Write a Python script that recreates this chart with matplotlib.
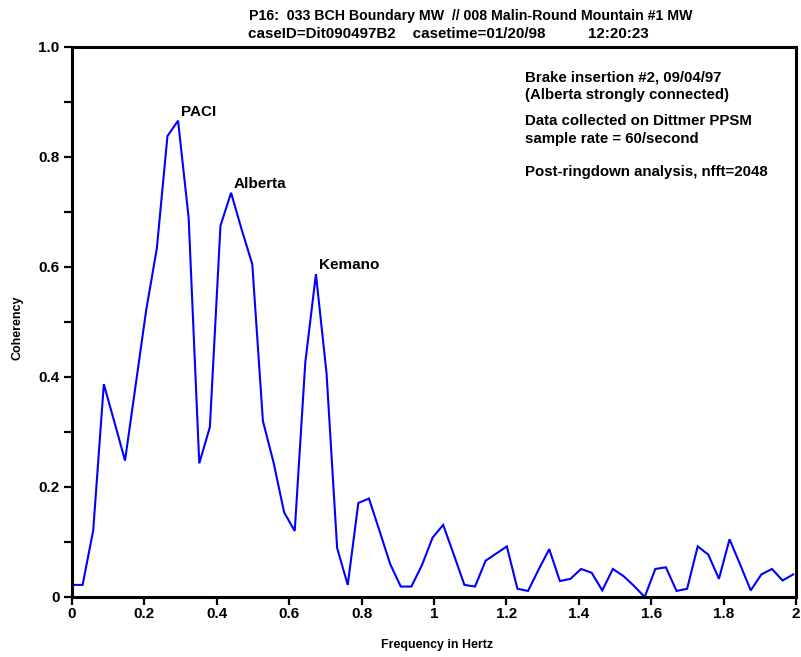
import numpy as np
import matplotlib
matplotlib.use("Agg")
import matplotlib.pyplot as plt
from matplotlib.ticker import MultipleLocator, FixedLocator

# Spectral setup: 60 samples/second, nfft = 2048
fs = 60.0
nfft = 2048
freq_step = fs / nfft

# Coherency estimates for bins 0..68
coherency = [
    0.022, 0.022, 0.121, 0.387, 0.318, 0.248, 0.385, 0.522, 0.634, 0.838,
    0.866, 0.689, 0.243, 0.309, 0.675, 0.735, 0.668, 0.605, 0.320, 0.245,
    0.154, 0.120, 0.427, 0.587, 0.407, 0.089, 0.022, 0.171, 0.179, 0.120,
    0.060, 0.019, 0.019, 0.058, 0.108, 0.131, 0.077, 0.022, 0.019, 0.066,
    0.079, 0.092, 0.015, 0.011, 0.050, 0.087, 0.029, 0.033, 0.051, 0.044,
    0.012, 0.051, 0.038, 0.020, 0.000, 0.051, 0.054, 0.011, 0.015, 0.092,
    0.077, 0.033, 0.105, 0.059, 0.012, 0.041, 0.051, 0.030, 0.041,
]
freqs = np.arange(len(coherency)) * freq_step

peak_labels = ["PACI", "Alberta", "Kemano"]
peak_bins = [10, 15, 23]

x_ticks = [0, 0.2, 0.4, 0.6, 0.8, 1.0, 1.2, 1.4, 1.6, 1.8, 2.0]
x_tick_labels = ["0", "0.2", "0.4", "0.6", "0.8", "1", "1.2", "1.4", "1.6", "1.8", "2"]
y_ticks = [0, 0.2, 0.4, 0.6, 0.8, 1.0]
y_tick_labels = ["0", "0.2", "0.4", "0.6", "0.8", "1.0"]

title_1 = "P16:  033 BCH Boundary MW  // 008 Malin-Round Mountain #1 MW"
title_2 = "caseID=Dit090497B2    casetime=01/20/98          12:20:23"
note_lines = [
    "Brake insertion #2, 09/04/97",
    "(Alberta strongly connected)",
    "Data collected on Dittmer PPSM",
    "sample rate = 60/second",
    "Post-ringdown analysis, nfft=2048",
]
note_y = [0.945, 0.913, 0.865, 0.833, 0.773]

plt.rcParams["font.family"] = ["Liberation Sans", "DejaVu Sans"]
plt.rcParams["font.weight"] = "bold"

W, H = 801, 657
fig = plt.figure(figsize=(W / 100, H / 100), dpi=100)
ax = fig.add_axes([72 / W, 1 - 597 / H, (796 - 72) / W, (597 - 47) / H])

ax.plot(freqs, coherency, color="#0000ff", lw=1.5, solid_joinstyle="miter")

ax.set_xlim(0, 2)
ax.set_ylim(0, 1)
ax.xaxis.set_major_locator(FixedLocator(x_ticks))
ax.set_xticklabels(x_tick_labels)
ax.yaxis.set_major_locator(FixedLocator(y_ticks))
ax.set_yticklabels(y_tick_labels)
ax.yaxis.set_minor_locator(MultipleLocator(0.1))

for side in ["left", "bottom", "right", "top"]:
    ax.spines[side].set_linewidth(2.2)

ax.tick_params(axis="both", which="both", direction="out", length=6, width=1.6,
               labelsize=11, pad=3)
ax.tick_params(axis="y", which="minor", length=6, width=1.6)
ax.tick_params(axis="x", pad=1)
ax.tick_params(top=False, right=False)
for lbl in ax.get_xticklabels() + ax.get_yticklabels():
    lbl.set_fontweight("bold")

# Axis titles
fig.text(437 / W, 1 - 645 / H, "Frequency in Hertz", ha="center", va="center",
         fontsize=8.9, fontweight="bold")
fig.text(18 / W, 1 - 328 / H, "Coherency", ha="center", va="center",
         rotation=90, fontsize=9, fontweight="bold")

for name, k in zip(peak_labels, peak_bins):
    ax.annotate(name, (freqs[k], coherency[k]), xytext=(2, 1.5),
                textcoords="offset points", ha="left", va="bottom",
                fontsize=11, fontweight="bold")

for text, y in zip(note_lines, note_y):
    ax.text(0.626, y, text, transform=ax.transAxes, ha="left", va="center",
            fontsize=10.8, fontweight="bold")

fig.text(471 / W, 1 - 16 / H, title_1, ha="center", va="center",
         fontsize=10.2, fontweight="bold")
fig.text(448 / W, 1 - 34 / H, title_2, ha="center", va="center",
         fontsize=10.9, fontweight="bold")

fig.savefig("out.png", dpi=100)
